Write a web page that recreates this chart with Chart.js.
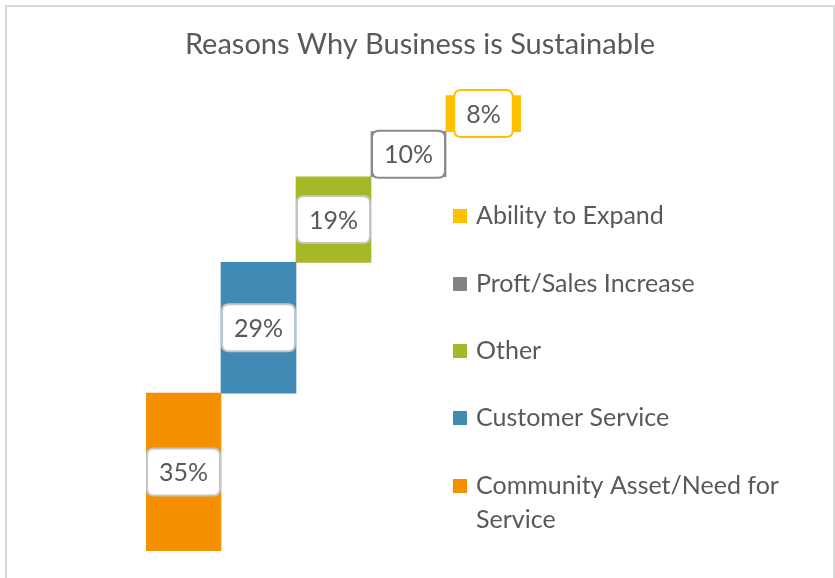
<!DOCTYPE html>
<html>
<head>
<meta charset="utf-8">
<script src="https://cdn.jsdelivr.net/npm/chart.js@4.4.1/dist/chart.umd.min.js"></script>
<style>
  html, body { margin: 0; padding: 0; background: #fff; }
  #wrap { width: 835px; height: 578px; position: relative; }
</style>
</head>
<body>
<div id="wrap"><canvas id="chart" width="835" height="578"></canvas></div>
<script>
const categories = ['Community Asset/Need for Service', 'Customer Service', 'Other', 'Proft/Sales Increase', 'Ability to Expand'];
const values = [35, 29, 19, 10, 8];
const colors = ['#f59100', '#418ab3', '#a6b727', '#838383', '#ffc000'];
const labelBorders = ['#c4c4c4', '#c4c4c4', '#c4c4c4', '#8a8a8a', '#ffc000'];
const legendLines = [['Community Asset/Need for', 'Service'], ['Customer Service'], ['Other'], ['Proft/Sales Increase'], ['Ability to Expand']];

const TEXT = '#595959';
const FONT = 'Lato, "Open Sans", sans-serif';

// each series floats on top of the ones before it
let running = 0;
const datasets = categories.map((name, i) => {
  const data = categories.map(() => null);
  data[i] = [running, running + values[i]];
  running += values[i];
  return {
    label: name,
    data,
    backgroundColor: colors[i],
    borderWidth: 0,
    grouped: false,
    barPercentage: 1,
    categoryPercentage: 1
  };
});

function roundRect(ctx, x, y, w, h, r) {
  ctx.beginPath();
  ctx.moveTo(x + r, y);
  ctx.lineTo(x + w - r, y);
  ctx.quadraticCurveTo(x + w, y, x + w, y + r);
  ctx.lineTo(x + w, y + h - r);
  ctx.quadraticCurveTo(x + w, y + h, x + w - r, y + h);
  ctx.lineTo(x + r, y + h);
  ctx.quadraticCurveTo(x, y + h, x, y + h - r);
  ctx.lineTo(x, y + r);
  ctx.quadraticCurveTo(x, y, x + r, y);
  ctx.closePath();
}

// frame, title, boxed value labels and the side legend
const decorations = {
  id: 'decorations',
  beforeDraw(chart) {
    const ctx = chart.ctx;
    ctx.save();
    ctx.strokeStyle = '#d9d9d9';
    ctx.lineWidth = 2;
    ctx.strokeRect(6, 6, 828, 600);
    ctx.fillStyle = TEXT;
    ctx.font = '29px ' + FONT;
    ctx.textAlign = 'center';
    ctx.textBaseline = 'middle';
    ctx.fillText('Reasons Why Business is Sustainable', 420, 45);
    ctx.restore();
  },
  afterDatasetsDraw(chart) {
    const ctx = chart.ctx;
    ctx.save();
    ctx.font = '25px ' + FONT;
    ctx.textAlign = 'center';
    ctx.textBaseline = 'middle';
    chart.data.datasets.forEach((ds, i) => {
      const bar = chart.getDatasetMeta(i).data[i];
      const cx = bar.x;
      const cy = (bar.y + bar.base) / 2;
      const txt = values[i] + '%';
      const w = ctx.measureText(txt).width + 24;
      const h = 47;
      roundRect(ctx, cx - w / 2, cy - h / 2, w, h, 7);
      ctx.fillStyle = '#fff';
      ctx.fill();
      ctx.lineWidth = 2;
      ctx.strokeStyle = labelBorders[i];
      ctx.stroke();
      ctx.fillStyle = TEXT;
      ctx.fillText(txt, cx, cy + 1);
    });

    // legend, listed top to bottom in reverse series order
    const tops = [216, 284, 351, 418, 486];
    ctx.font = '25px ' + FONT;
    ctx.textAlign = 'left';
    for (let k = 0; k < categories.length; k++) {
      const i = categories.length - 1 - k;
      const y = tops[k];
      ctx.fillStyle = colors[i];
      ctx.fillRect(453, y - 7, 14, 14);
      ctx.fillStyle = TEXT;
      legendLines[i].forEach((line, j) => ctx.fillText(line, 476, y + j * 34));
    }
    ctx.restore();
  }
};

new Chart(document.getElementById('chart'), {
  type: 'bar',
  data: { labels: categories, datasets },
  options: {
    responsive: false,
    animation: false,
    layout: { padding: { left: 146, right: 314, top: 55, bottom: 27 } },
    plugins: {
      legend: { display: false },
      title: { display: false },
      tooltip: { enabled: false }
    },
    scales: {
      x: { display: false },
      y: { display: false, min: 0, max: 110 }
    }
  },
  plugins: [decorations]
});
</script>
</body>
</html>
